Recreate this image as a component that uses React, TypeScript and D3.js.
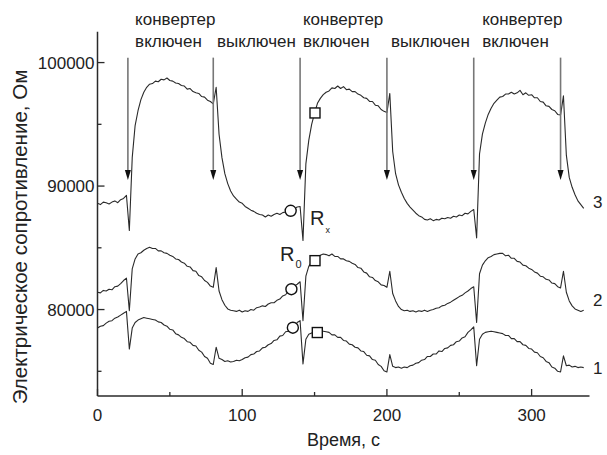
import React, { useEffect } from 'react';
import * as d3 from 'd3';

// samples every 2 s starting at t = 0
const STEP = 2;

const R3 = [
  88600, 88500, 88700, 88650, 88550, 88700, 88800, 88650, 88900, 89000,
  89250, 86400, 92300, 94900, 96100, 97000, 97600, 98000, 98250, 98300,
  98500, 98450, 98650, 98600, 98750, 98550, 98500, 98350, 98300, 98150,
  98100, 97850, 97900, 97650, 97550, 97500, 97250, 97200, 96950, 96850,
  96650, 98000, 94200, 92300, 91000, 90200, 89600, 89200, 88950, 88700,
  88600, 88350, 88200, 88050, 87950, 87800, 87700, 87650, 87500, 87650,
  87550, 87700, 87800, 87700, 87850, 87900, 88000, 88050, 88150, 88300,
  88350, 85600, 91800, 93700, 95000, 95900, 96700, 97100, 97400, 97600,
  97700, 97950, 97900, 98100, 97900, 98050, 97800, 97850, 97650, 97650,
  97450, 97350, 97150, 97100, 96850, 96850, 96550, 96500, 96200, 96050,
  95950, 97500, 92800, 91000, 90100, 89500, 89000, 88600, 88300, 88050,
  87800, 87600, 87500, 87300, 87250, 87350, 87200, 87300, 87250, 87400,
  87350, 87450, 87400, 87550, 87500, 87650, 87600, 87800, 87750, 87950,
  88100, 85800, 92600, 94200, 95100, 95800, 96300, 96700, 96950, 97200,
  97250, 97450, 97450, 97600, 97450, 97550, 97750, 97400, 97550, 97350,
  97400, 97150, 97150, 96850, 96800, 96500, 96450, 96200, 96100, 95800,
  95750, 97300, 92500, 90700, 89900, 89300, 88800, 88500, 88200,
];

const R2 = [
  81400, 81350, 81550, 81500, 81650, 81600, 81850, 81900, 82100, 82350,
  82550, 79900, 83300, 84100, 84500, 84600, 84800, 84950, 85050, 84950,
  84950, 84750, 84750, 84600, 84550, 84400, 84300, 84100, 84050, 83850,
  83750, 83500, 83450, 83150, 83100, 82750, 82650, 82350, 82200, 81900,
  81800, 83400, 81500, 80800, 80350, 80050, 79950, 79900, 79850, 79950,
  79800, 79900, 79850, 80000, 79950, 80150, 80200, 80300, 80250, 80450,
  80550, 80550, 80750, 80850, 81100, 81200, 81500, 81600, 81900, 82050,
  82250, 79100, 82700, 83500, 83850, 84000, 84250, 84400, 84500, 84450,
  84350, 84500, 84300, 84300, 84100, 84100, 83950, 83900, 83750, 83650,
  83400, 83350, 83050, 82950, 82650, 82600, 82350, 82250, 82000, 81950,
  81800, 83100, 81300, 80700, 80250, 80000, 79900, 79950, 79850, 79900,
  79800, 79900, 79850, 79950, 79850, 79950, 80000, 80100, 80150, 80300,
  80350, 80500, 80600, 80750, 80900, 81050, 81150, 81350, 81500, 81700,
  81850, 78950, 82900, 83600, 83950, 84200, 84300, 84450, 84500, 84550,
  84550, 84350, 84400, 84150, 84150, 83900, 83850, 83600, 83550, 83350,
  83250, 83050, 82950, 82700, 82650, 82450, 82400, 82150, 82100, 81850,
  81750, 83100, 81400, 80700, 80300, 80050, 79950, 79850, 79950,
];

const R1 = [
  78500, 78650, 78700, 78900, 79050, 79100, 79300, 79400, 79550, 79700,
  79850, 76800, 78500, 78950, 79150, 79250, 79350, 79300, 79250, 79200,
  79150, 79000, 78950, 78750, 78650, 78400, 78350, 78050, 77950, 77750,
  77650, 77400, 77350, 77100, 77050, 76700, 76550, 76200, 76050, 75650,
  75550, 76950, 76050, 75950, 75800, 75850, 75750, 75800, 75900, 75850,
  75950, 76100, 76150, 76350, 76400, 76600, 76650, 76900, 76950, 77150,
  77250, 77500, 77550, 77850, 77900, 78200, 78250, 78550, 78650, 78950,
  79100, 75600, 77600, 78000, 78100, 78200, 78200, 78300, 78250, 78200,
  78150, 77950, 77950, 77750, 77750, 77500, 77450, 77200, 77150, 76950,
  76900, 76650, 76600, 76300, 76250, 75950, 75900, 75550, 75400, 75050,
  74950, 76350, 75400, 75300, 75350, 75250, 75350, 75300, 75450, 75500,
  75650, 75700, 75900, 75950, 76200, 76200, 76400, 76400, 76650, 76600,
  76850, 76900, 77100, 77150, 77400, 77450, 77700, 77800, 78150, 78350,
  78600, 75450, 77600, 78000, 78150, 78200, 78250, 78200, 78150, 78100,
  78050, 77900, 77900, 77650, 77650, 77400, 77400, 77150, 77100, 76850,
  76800, 76550, 76500, 76200, 76100, 75800, 75700, 75350, 75250, 75000,
  74950, 76250, 75450, 75500, 75350, 75400, 75300, 75350, 75300,
];

const CURVES = [
  { label: '3', values: R3, labelAt: [342.4, 88710] },
  { label: '2', values: R2, labelAt: [342.4, 80770] },
  { label: '1', values: R1, labelAt: [342.4, 75270] },
];

const X_TICKS = [0, 100, 200, 300];
const X_MINOR = [50, 150, 250];
const Y_TICKS = [80000, 90000, 100000];
const Y_MINOR = [75000, 85000, 95000];

// converter switched on / off moments
const ARROWS = [21, 80, 140, 200, 260, 320];
const ARROW_TOP = 100400;
const ARROW_TIP = 90500;
const ON_LABELS = [26, 142, 265.8];
const OFF_LABELS = [82.6, 202.8];
const ANNOT_Y1 = 103050;
const ANNOT_Y2 = 101260;

const CIRCLES = [[133.5, 88000], [134, 81650], [135, 78530]];
const SQUARES = [[150.3, 95920], [150.3, 83960], [151.9, 78140]];
const R_X_AT = [146.9, 86850];
const R_0_AT = [126.1, 83930];

const W = 607;
const H = 455;
const margin = { top: 31.7, right: 17.5, bottom: 59, left: 97.5 };
const FONT = '"Liberation Sans", Arial, Helvetica, sans-serif';
const INK = '#2a2a2a';

export default function App() {
  useEffect(() => {
    document.body.style.margin = '0';
  }, []);

  const x = d3.scaleLinear().domain([0, 340]).range([margin.left, W - margin.right]);
  const y = d3.scaleLinear().domain([73000, 102500]).range([H - margin.bottom, margin.top]);

  const line = d3.line<number>()
    .x((_, i) => x(i * STEP))
    .y(d => y(d));

  const x0 = margin.left;
  const y0 = H - margin.bottom;

  return (
    <svg width={W} height={H} style={{ display: 'block', background: '#fff' }} fontFamily={FONT}>
      {/* curves */}
      {CURVES.map(c => (
        <path key={c.label} d={line(c.values) || ''} fill="none" stroke={INK}
          strokeWidth={1.1} strokeLinejoin="round" />
      ))}

      {/* arrows */}
      {ARROWS.map(t => (
        <g key={t}>
          <line x1={x(t)} x2={x(t)} y1={y(ARROW_TOP)} y2={y(ARROW_TIP) - 10}
            stroke="#777" strokeWidth={1.6} />
          <path d={`M${x(t) - 3},${y(ARROW_TIP) - 10} L${x(t) + 3},${y(ARROW_TIP) - 10} L${x(t)},${y(ARROW_TIP)} Z`}
            fill="#111" />
        </g>
      ))}

      {/* annotations */}
      {ON_LABELS.map(t => (
        <g key={'on' + t} fontSize={17} fill="#222">
          <text x={x(t)} y={y(ANNOT_Y1)}>конвертер</text>
          <text x={x(t)} y={y(ANNOT_Y2)}>включен</text>
        </g>
      ))}
      {OFF_LABELS.map(t => (
        <text key={'off' + t} x={x(t)} y={y(ANNOT_Y2)} fontSize={17} fill="#222">выключен</text>
      ))}

      {/* markers */}
      {CIRCLES.map(([t, v], i) => (
        <circle key={'c' + i} cx={x(t)} cy={y(v)} r={5.5} fill="#fff" stroke="#111" strokeWidth={1.4} />
      ))}
      {SQUARES.map(([t, v], i) => (
        <rect key={'s' + i} x={x(t) - 5} y={y(v) - 5} width={10} height={10}
          fill="#fff" stroke="#111" strokeWidth={1.4} />
      ))}
      <text x={x(R_X_AT[0])} y={y(R_X_AT[1])} fontSize={20} fill="#222">
        R<tspan fontSize={9} dy={8} dx={1}>x</tspan>
      </text>
      <text x={x(R_0_AT[0])} y={y(R_0_AT[1])} fontSize={20} fill="#222">
        R<tspan fontSize={11} dy={7} dx={1}>0</tspan>
      </text>

      {/* curve numbers */}
      {CURVES.map(c => (
        <text key={'l' + c.label} x={x(c.labelAt[0])} y={y(c.labelAt[1])} dy="0.35em"
          fontSize={17} fill="#222">{c.label}</text>
      ))}

      {/* axes */}
      <line x1={x0} x2={x0} y1={margin.top} y2={y0} stroke={INK} strokeWidth={1.5} />
      <line x1={x0} x2={W - margin.right} y1={y0} y2={y0} stroke={INK} strokeWidth={1.5} />
      {Y_TICKS.map(v => (
        <g key={'yt' + v}>
          <line x1={x0} x2={x0 + 7} y1={y(v)} y2={y(v)} stroke={INK} strokeWidth={1.3} />
          <text x={x0 - 3} y={y(v)} dy="0.35em" textAnchor="end" fontSize={17} fill="#222">{v}</text>
        </g>
      ))}
      {Y_MINOR.map(v => (
        <line key={'ym' + v} x1={x0} x2={x0 + 4} y1={y(v)} y2={y(v)} stroke={INK} strokeWidth={1.3} />
      ))}
      {X_TICKS.map(t => (
        <g key={'xt' + t}>
          <line x1={x(t)} x2={x(t)} y1={y0} y2={y0 - 7} stroke={INK} strokeWidth={1.3} />
          <text x={x(t)} y={y0 + 25} textAnchor="middle" fontSize={17} fill="#222">{t}</text>
        </g>
      ))}
      {X_MINOR.map(t => (
        <line key={'xm' + t} x1={x(t)} x2={x(t)} y1={y0} y2={y0 - 4} stroke={INK} strokeWidth={1.3} />
      ))}

      <text x={(x0 + W - margin.right) / 2} y={446} textAnchor="middle" fontSize={18} fill="#222">Время, с</text>
      <text transform="translate(27, 237) rotate(-90)" textAnchor="middle"
        fontSize={20.5} fill="#222">Электрическое сопротивление, Ом</text>
    </svg>
  );
}
